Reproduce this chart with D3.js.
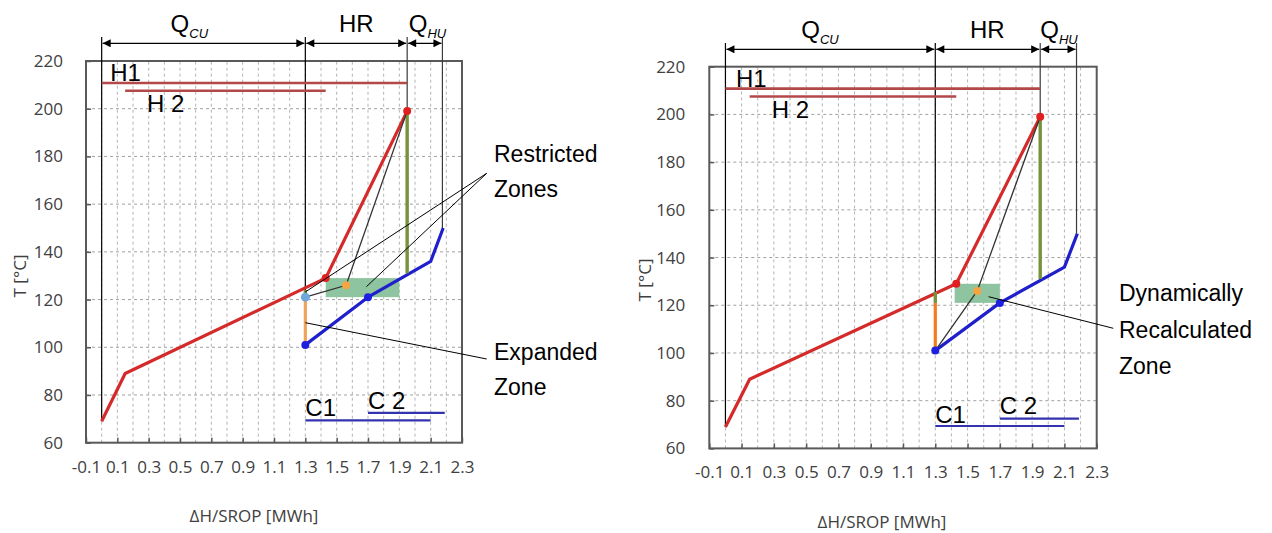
<!DOCTYPE html>
<html>
<head>
<meta charset="utf-8">
<script src="https://cdn.jsdelivr.net/npm/d3@7/dist/d3.min.js"></script>
<style>
body { margin: 0; background: #fff; }
</style>
</head>
<body>
<script>

// ---- data ----
var xTicks = [-0.1, 0.1, 0.3, 0.5, 0.7, 0.9, 1.1, 1.3, 1.5, 1.7, 1.9, 2.1, 2.3];
var yTicks = [60, 80, 100, 120, 140, 160, 180, 200, 220];
var xGrid = [0, 0.1, 0.2, 0.3, 0.4, 0.5, 0.6, 0.7, 0.8, 0.9, 1, 1.1, 1.2, 1.3, 1.4, 1.5, 1.6, 1.7, 1.8, 1.9, 2, 2.1, 2.2];
var yGrid = [80, 100, 120, 140, 160, 180, 200];

var hotCurve = [[0, 69], [0.15, 89], [1.43, 129], [1.95, 199]];
var coldCurve = [[1.3, 101], [1.7, 121], [2.1, 136], [2.18, 150]];

var hotNames = ['H1', 'H 2'];
var hotStart = [0, 0.15];
var hotEnd = [1.95, 1.43];
var hotTemp = [210.8, 207.5];

var coldNames = ['C1', 'C 2'];
var coldStart = [1.3, 1.7];
var coldEnd = [2.1, 2.19];
var coldTemp = [69.4, 72.5];

var spanEdges = [0, 1.3, 1.95, 2.175];
var spanMain = ['Q', 'HR', 'Q'];
var spanSub = ['CU', '', 'HU'];

// left panel: restricted / expanded
var edgeEndsA = [69, 124, 199, 150];
var zoneA = [1.43, 1.9, 121, 129];
var matchA = [[1.3, 121], [1.56, 126], [1.95, 199]];
var orangeA = [1.3, 101, 121];
var greenShortA = [1.3, 121, 124];
var greenTallA = [1.95, 131, 199];
var redDotsA = [[1.43, 129], [1.95, 199]];
var blueDotsA = [[1.3, 101], [1.7, 121]];
var lightDotsA = [[1.3, 121]];
var orangeDotsA = [[1.56, 126]];

// right panel: dynamically recalculated
var edgeEndsB = [69, 125.5, 199, 150];
var zoneB = [1.42, 1.7, 121, 129];
var matchB = [[1.3, 101], [1.56, 126], [1.95, 199]];
var orangeB = [1.3, 101, 121];
var greenShortB = [1.3, 121, 125.5];
var greenTallB = [1.95, 131, 199];
var redDotsB = [[1.43, 129], [1.95, 199]];
var blueDotsB = [[1.3, 101], [1.7, 121]];
var lightDotsB = [];
var orangeDotsB = [[1.56, 126]];

var svg = d3.select('body').append('svg')
    .attr('width', 1272)
    .attr('height', 533);

svg.append('rect').attr('width', 1272).attr('height', 533).attr('fill', '#fff');

var defs = svg.append('defs');
defs.append('marker')
    .attr('id', 'arr')
    .attr('viewBox', '0 0 10 10')
    .attr('refX', 10)
    .attr('refY', 5)
    .attr('markerWidth', 10)
    .attr('markerHeight', 8)
    .attr('markerUnits', 'userSpaceOnUse')
    .attr('orient', 'auto-start-reverse')
    .append('path')
    .attr('d', 'M0,0 L10,5 L0,10 Z')
    .attr('fill', '#000');

var labelFont = '"Liberation Sans", Arial, sans-serif';
var axisFont = '"Open Sans", "Noto Sans", sans-serif';

function drawPanel(p) {
    var x = d3.scaleLinear().domain([-0.1, 2.3]).range([p.left, p.left + p.width]);
    var y = d3.scaleLinear().domain([60, 220]).range([p.top + p.height, p.top]);
    var line = d3.line().x(function(d){ return x(d[0]); }).y(function(d){ return y(d[1]); });
    var g = svg.append('g');

    // dashed grid
    g.selectAll('.vg').data(xGrid).enter().append('line')
        .attr('x1', function(d){ return x(d); })
        .attr('x2', function(d){ return x(d); })
        .attr('y1', y(60)).attr('y2', y(220))
        .attr('stroke', '#b3b3b3')
        .attr('stroke-dasharray', '3,3');
    g.selectAll('.hg').data(yGrid).enter().append('line')
        .attr('y1', function(d){ return y(d); })
        .attr('y2', function(d){ return y(d); })
        .attr('x1', x(-0.1)).attr('x2', x(2.3))
        .attr('stroke', '#a0a0a0')
        .attr('stroke-dasharray', '3,3');

    // axes
    var xa = g.append('g')
        .attr('transform', 'translate(0,' + y(60) + ')')
        .call(d3.axisBottom(x).tickValues(xTicks).tickSize(-5).tickPadding(18)
            .tickFormat(function(d){ return d.toFixed(1); }));
    var ya = g.append('g')
        .attr('transform', 'translate(' + x(-0.1) + ',0)')
        .call(d3.axisLeft(y).tickValues(yTicks).tickSize(-5).tickPadding(p.yPad));
    [xa, ya].forEach(function(a){
        a.select('.domain').remove();
        a.selectAll('line').attr('stroke', '#595959').attr('stroke-width', 1.5);
        a.selectAll('text').attr('font-family', axisFont).attr('font-size', 17).attr('fill', '#404040');
    });

    g.append('rect')
        .attr('x', x(-0.1)).attr('y', y(220))
        .attr('width', x(2.3) - x(-0.1)).attr('height', y(60) - y(220))
        .attr('fill', 'none')
        .attr('stroke', '#595959')
        .attr('stroke-width', 2);

    g.append('text')
        .attr('transform', 'translate(' + p.yTitleX + ',' + p.yTitleY + ') rotate(-90)')
        .attr('text-anchor', 'middle')
        .attr('dominant-baseline', 'middle')
        .attr('font-family', axisFont).attr('font-size', 17).attr('fill', '#404040')
        .text('T [°C]');
    g.append('text')
        .attr('x', p.xTitleX).attr('y', p.xTitleY)
        .attr('text-anchor', 'middle')
        .attr('font-family', axisFont).attr('font-size', 17).attr('fill', '#404040')
        .text('ΔH/SROP [MWh]');

    // extension lines for the dimension arrows
    g.selectAll('.ext').data(spanEdges).enter().append('line')
        .attr('x1', function(d){ return x(d); })
        .attr('x2', function(d){ return x(d); })
        .attr('y1', p.extTop)
        .attr('y2', function(d, i){ return y(p.edgeEnds[i]); })
        .attr('stroke', function(d, i){ return i < 2 ? '#000' : '#3a3a3a'; })
        .attr('stroke-width', 1.2);

    for (var i = 0; i < spanMain.length; i++) {
        g.append('line')
            .attr('x1', x(spanEdges[i]) + 1).attr('x2', x(spanEdges[i + 1]) - 1)
            .attr('y1', p.arrowY).attr('y2', p.arrowY)
            .attr('stroke', '#000').attr('stroke-width', 1.2)
            .attr('marker-start', 'url(#arr)')
            .attr('marker-end', 'url(#arr)');
        var t = g.append('text')
            .attr('x', x(p.spanLabelX[i])).attr('y', p.arrowY - 11)
            .attr('font-family', labelFont).attr('font-size', 24).attr('fill', '#000');
        t.append('tspan').text(spanMain[i]);
        if (spanSub[i]) {
            t.append('tspan').attr('dy', 6).attr('font-size', 13).attr('font-style', 'italic').text(spanSub[i]);
        }
    }

    // stream bars
    hotNames.forEach(function(n, i){
        g.append('line')
            .attr('x1', x(hotStart[i])).attr('x2', x(hotEnd[i]))
            .attr('y1', y(hotTemp[i])).attr('y2', y(hotTemp[i]))
            .attr('stroke', '#b34848').attr('stroke-width', 2.6);
        g.append('text')
            .attr('x', x(p.hotLabel[i][0])).attr('y', y(p.hotLabel[i][1]))
            .attr('font-family', labelFont).attr('font-size', 24).attr('fill', '#000')
            .text(n);
    });
    coldNames.forEach(function(n, i){
        g.append('line')
            .attr('x1', x(coldStart[i])).attr('x2', x(coldEnd[i]))
            .attr('y1', y(coldTemp[i])).attr('y2', y(coldTemp[i]))
            .attr('stroke', '#3333b0').attr('stroke-width', 2.2);
        g.append('text')
            .attr('x', x(p.coldLabel[i][0])).attr('y', y(p.coldLabel[i][1]))
            .attr('font-family', labelFont).attr('font-size', 24).attr('fill', '#000')
            .text(n);
    });

    // zone rectangle
    g.append('rect')
        .attr('x', x(p.zone[0])).attr('y', y(p.zone[3]))
        .attr('width', x(p.zone[1]) - x(p.zone[0]))
        .attr('height', y(p.zone[2]) - y(p.zone[3]))
        .attr('fill', '#8ec5a0');

    // composite curves
    g.append('path').datum(hotCurve).attr('d', line)
        .attr('fill', 'none').attr('stroke', '#d42a2a').attr('stroke-width', 3.2)
        .attr('stroke-linejoin', 'round');
    g.append('path').datum(coldCurve).attr('d', line)
        .attr('fill', 'none').attr('stroke', '#1f1fcc').attr('stroke-width', 3.2)
        .attr('stroke-linejoin', 'round');

    // vertical utility segments
    g.append('line')
        .attr('x1', x(p.orange[0])).attr('x2', x(p.orange[0]))
        .attr('y1', y(p.orange[1])).attr('y2', y(p.orange[2]))
        .attr('stroke', p.orangeColor).attr('stroke-width', 3.2);
    [p.greenShort, p.greenTall].forEach(function(s){
        g.append('line')
            .attr('x1', x(s[0])).attr('x2', x(s[0]))
            .attr('y1', y(s[1])).attr('y2', y(s[2]))
            .attr('stroke', '#76933c').attr('stroke-width', 3.4);
    });

    // matching line
    g.append('path').datum(p.match).attr('d', line)
        .attr('fill', 'none').attr('stroke', '#333').attr('stroke-width', 1.3);

    // dots
    function dots(arr, color, r) {
        g.selectAll(null).data(arr).enter().append('circle')
            .attr('cx', function(d){ return x(d[0]); })
            .attr('cy', function(d){ return y(d[1]); })
            .attr('r', r)
            .attr('fill', color);
    }
    dots(p.redDots, '#e02020', 4);
    dots(p.blueDots, '#1f1fe0', 4);
    dots(p.lightDots, '#6fa8dc', 4.5);
    dots(p.orangeDots, '#f5a541', 4);

    // callouts
    p.callouts.forEach(function(c){
        c.to.forEach(function(pt){
            g.append('line')
                .attr('x1', c.from[0]).attr('y1', c.from[1])
                .attr('x2', x(pt[0])).attr('y2', y(pt[1]))
                .attr('stroke', '#000').attr('stroke-width', 1);
        });
        c.lines.forEach(function(s, k){
            g.append('text')
                .attr('x', c.textX).attr('y', c.textY + k * c.lh)
                .attr('font-family', labelFont).attr('font-size', 23).attr('fill', '#000')
                .text(s);
        });
    });
}

drawPanel({
    left: 86, top: 61, width: 376, height: 381.7,
    yPad: 23, yTitleX: 21, yTitleY: 276, xTitleX: 254, xTitleY: 522,
    arrowY: 43.3, extTop: 37, edgeEnds: edgeEndsA,
    spanLabelX: [0.44, 1.515, 1.96],
    hotLabel: [[0.055, 211.5], [0.29, 198.7]],
    coldLabel: [[1.3, 71], [1.7, 74.1]],
    zone: zoneA, match: matchA, orange: orangeA, orangeColor: '#f0a35c',
    greenShort: greenShortA, greenTall: greenTallA,
    redDots: redDotsA, blueDots: blueDotsA, lightDots: lightDotsA, orangeDots: orangeDotsA,
    callouts: [
        { from: [486.7, 173.3], to: [[1.3, 123.2], [1.69, 125.4]], lines: ['Restricted', 'Zones'], textX: 494, textY: 162, lh: 35 },
        { from: [486.7, 359], to: [[1.3, 110.3]], lines: ['Expanded', 'Zone'], textX: 494, textY: 360, lh: 35 }
    ]
});

drawPanel({
    left: 709.3, top: 66.7, width: 387.4, height: 381.7,
    yPad: 24, yTitleX: 646, yTitleY: 280, xTitleX: 882, xTitleY: 528,
    arrowY: 49.3, extTop: 43, edgeEnds: edgeEndsB,
    spanLabelX: [0.47, 1.515, 1.95],
    hotLabel: [[0.065, 211.3], [0.287, 198.4]],
    coldLabel: [[1.3, 70.8], [1.7, 74.5]],
    zone: zoneB, match: matchB, orange: orangeB, orangeColor: '#f47a1c',
    greenShort: greenShortB, greenTall: greenTallB,
    redDots: redDotsB, blueDots: blueDotsB, lightDots: lightDotsB, orangeDots: orangeDotsB,
    callouts: [
        { from: [1113.3, 328.3], to: [[1.63, 123.6]], lines: ['Dynamically', 'Recalculated', 'Zone'], textX: 1119, textY: 301, lh: 36.5 }
    ]
});

</script>
</body>
</html>
